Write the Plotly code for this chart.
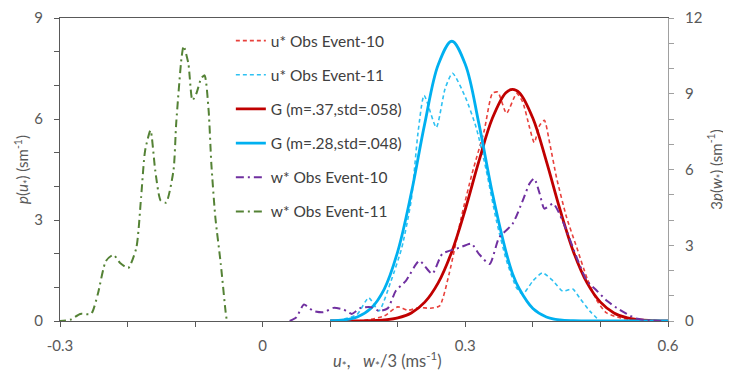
import plotly.graph_objects as go

# ---------------- data ----------------
# Gaussian fits (left axis)
g_x = [0.10, 0.12, 0.14, 0.16, 0.18, 0.20, 0.22, 0.24, 0.26, 0.28, 0.30, 0.32, 0.34,
       0.36, 0.37, 0.38, 0.40, 0.42, 0.44, 0.46, 0.48, 0.50, 0.52, 0.54, 0.56, 0.58, 0.60]
g_red = [0.0, 0.0, 0.003, 0.01, 0.03, 0.09, 0.24, 0.56, 1.14, 2.06, 3.32, 4.74, 6.02,
         6.78, 6.88, 6.78, 6.02, 4.74, 3.32, 2.06, 1.14, 0.56, 0.24, 0.09, 0.03, 0.01, 0.003]
g_blue = [0.007, 0.03, 0.12, 0.37, 0.95, 2.07, 3.80, 5.87, 7.62, 8.31, 7.62, 5.87, 3.80,
          2.07, 1.40, 0.95, 0.37, 0.12, 0.03, 0.007, 0.001, 0.0, 0.0, 0.0, 0.0, 0.0, 0.0]

# u* observed, Event-10 (left axis)
u10_x = [0.14, 0.16, 0.18, 0.20, 0.215, 0.232, 0.248, 0.262, 0.276, 0.294, 0.310, 0.328,
         0.340, 0.348, 0.361, 0.376, 0.385, 0.395, 0.402, 0.410, 0.417, 0.425, 0.435,
         0.450, 0.465, 0.480, 0.495, 0.509, 0.530, 0.550, 0.570]
u10_y = [0.0, 0.05, 0.15, 0.42, 0.32, 0.40, 0.38, 0.45, 1.40, 3.08, 4.38, 5.66,
         6.76, 6.80, 6.17, 6.76, 6.50, 5.75, 5.30, 5.81, 5.96, 5.27, 4.26,
         3.07, 2.18, 1.28, 0.60, 0.24, 0.09, 0.03, 0.0]

# u* observed, Event-11 (left axis)
u11_x = [0.10, 0.12, 0.14, 0.157, 0.172, 0.19, 0.206, 0.220, 0.230, 0.239, 0.257,
         0.270, 0.281, 0.300, 0.316, 0.331, 0.346, 0.361, 0.376, 0.385, 0.400, 0.414,
         0.430, 0.444, 0.459, 0.469, 0.484, 0.499]
u11_y = [0.0, 0.05, 0.20, 0.69, 0.30, 1.19, 2.18, 3.60, 5.60, 6.70, 5.75,
         6.90, 7.36, 6.65, 5.75, 4.47, 2.98, 1.79, 0.98, 0.80, 1.19, 1.43,
         1.19, 0.89, 0.95, 0.69, 0.30, 0.0]

# w* observed, Event-10 (right axis, 3p(w*))
w10_x = [0.04, 0.05, 0.061, 0.075, 0.09, 0.105, 0.12, 0.132, 0.145, 0.160, 0.172,
         0.185, 0.197, 0.212, 0.232, 0.251, 0.266, 0.291, 0.309, 0.320, 0.336, 0.350,
         0.370, 0.385, 0.395, 0.402, 0.410, 0.417, 0.430, 0.444, 0.465, 0.480, 0.495,
         0.510, 0.524, 0.539, 0.553, 0.570, 0.590]
w10_y = [0.0, 0.15, 0.65, 0.40, 0.35, 0.52, 0.45, 0.28, 0.52, 0.55, 0.40,
         0.50, 1.19, 1.59, 2.38, 1.87, 2.66, 2.90, 3.06, 2.66, 2.26, 3.30,
         3.85, 4.77, 5.44, 5.64, 5.05, 4.45, 4.65, 3.97, 2.50, 1.59, 1.19,
         0.79, 0.52, 0.28, 0.10, 0.03, 0.0]

# w* observed, Event-11 (right axis, 3p(w*))
w11_x = [-0.303, -0.285, -0.270, -0.254, -0.244, -0.232, -0.221, -0.211, -0.199, -0.187,
         -0.180, -0.174, -0.166, -0.159, -0.151, -0.143, -0.132, -0.128, -0.120, -0.117,
         -0.110, -0.104, -0.098, -0.091, -0.086, -0.080, -0.076, -0.070, -0.062, -0.055,
         -0.053]
w11_y = [0.0, 0.05, 0.28, 0.28, 1.07, 2.38, 2.62, 2.30, 2.10, 2.90,
         4.89, 6.75, 7.55, 5.96, 4.77, 4.69, 5.96, 7.83, 10.45, 10.89,
         10.20, 8.74, 9.02, 9.61, 9.73, 8.34, 6.24, 4.09, 2.26, 0.40,
         0.0]

x_tickvals = [-0.3, 0.0, 0.3, 0.6]
x_ticktext = ["-0.3", "0", "0.3", "0.6"]
yl_tickvals = [0, 3, 6, 9]
yr_tickvals = [0, 3, 6, 9, 12]

x_title = "<i>u</i><sub>*</sub>,\u00a0\u00a0\u00a0<i>w</i><sub>*</sub>/3 (ms<sup>-1</sup>)"

# ---------------- figure ----------------
FONT = "Lato, 'Open Sans', sans-serif"
TXT = "#595959"
AXD = "#595959"
AXL = "#a0a0a0"

fig = go.Figure()

fig.add_trace(go.Scatter(x=u10_x, y=u10_y, mode="lines", name="u* Obs Event-10",
                         line=dict(color="#E8413C", width=1.6, dash="4px,3px", shape="spline", smoothing=0.6),
                         legendgroup="a"))
fig.add_trace(go.Scatter(x=u11_x, y=u11_y, mode="lines", name="u* Obs Event-11",
                         line=dict(color="#2EC1F2", width=1.6, dash="4px,3px", shape="spline", smoothing=0.6),
                         legendgroup="b"))
fig.add_trace(go.Scatter(x=g_x, y=g_red, mode="lines", name="G (m=.37,std=.058)",
                         line=dict(color="#C00000", width=2.8, shape="spline"),
                         legendgroup="c"))
fig.add_trace(go.Scatter(x=g_x, y=g_blue, mode="lines", name="G (m=.28,std=.048)",
                         line=dict(color="#00B0F0", width=2.8, shape="spline"),
                         legendgroup="d"))
fig.add_trace(go.Scatter(x=w10_x, y=w10_y, mode="lines", name="w* Obs Event-10", yaxis="y2",
                         line=dict(color="#7030A0", width=2, dash="8px,4px,2px,4px", shape="spline", smoothing=0.6),
                         legendgroup="e"))
fig.add_trace(go.Scatter(x=w11_x, y=w11_y, mode="lines", name="w* Obs Event-11", yaxis="y2",
                         line=dict(color="#548235", width=2, dash="8px,4px,2px,4px", shape="spline", smoothing=0.6),
                         legendgroup="f"))

fig.add_annotation(text=x_title, xref="paper", yref="paper", x=0.538, y=-0.13,
                   xanchor="center", yanchor="middle", showarrow=False,
                   font=dict(size=16.5, color=TXT, family=FONT))

fig.update_layout(
    width=723, height=369,
    margin=dict(l=52, r=63, t=10, b=56, autoexpand=False),
    paper_bgcolor="white", plot_bgcolor="white",
    font=dict(family=FONT, size=15, color=TXT),
    showlegend=True,
    legend=dict(x=0.281, y=0.98, xanchor="left", yanchor="top",
                bgcolor="rgba(0,0,0,0)", font=dict(size=15.5, color="#404040"),
                tracegroupgap=11, itemwidth=30),
    xaxis=dict(range=[-0.3, 0.6], tickvals=x_tickvals, ticktext=x_ticktext,
               showgrid=False, zeroline=False, showline=True, linecolor=AXD, linewidth=1.2,
               mirror=True, ticks="outside", ticklen=5, tickcolor=AXD,
               ticklabelstandoff=6,
               minor=dict(dtick=0.1, tick0=-0.3, ticks="outside", ticklen=5, tickcolor=AXD),
               tickfont=dict(size=15, color=TXT)),
    yaxis=dict(range=[0, 9], tickvals=yl_tickvals,
               showgrid=False, zeroline=False, showline=True, linecolor=AXD, linewidth=1.2,
               ticks="outside", ticklen=5, tickcolor=AXD, ticklabelstandoff=8,
               minor=dict(dtick=1, ticks="outside", ticklen=5, tickcolor=AXD),
               tickfont=dict(size=15, color=TXT),
               title=dict(text="<i>p</i>(<i>u</i><sub>*</sub>) (sm<sup>-1</sup>)",
                          font=dict(size=15, color=TXT), standoff=1)),
    yaxis2=dict(range=[0, 12], tickvals=yr_tickvals, overlaying="y", side="right",
                showgrid=False, zeroline=False, showline=True, linecolor=AXL, linewidth=1.2,
                ticks="outside", ticklen=5, tickcolor=AXL, ticklabelstandoff=8,
                minor=dict(dtick=1, ticks="outside", ticklen=5, tickcolor=AXL),
                tickfont=dict(size=15, color=TXT),
                title=dict(text="3<i>p</i>(<i>w</i><sub>*</sub>) (sm<sup>-1</sup>)",
                           font=dict(size=15, color=TXT), standoff=9)),
)

fig.write_html("out.html")
